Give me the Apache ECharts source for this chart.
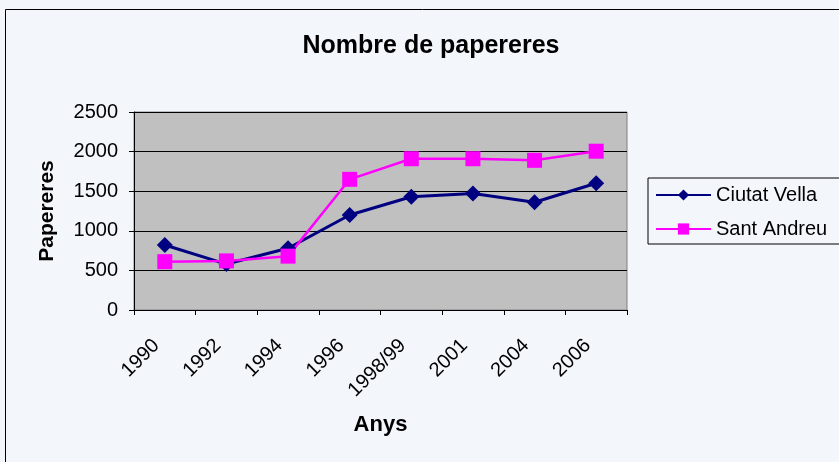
<!DOCTYPE html>
<html><head><meta charset="utf-8">
<script src="https://cdn.jsdelivr.net/npm/echarts@6/dist/echarts.min.js"></script>
<style>html,body{margin:0;padding:0;background:#f3f6fb;}#c{width:839px;height:462px;}</style>
</head><body><div id="c"></div>
<script>
var categories = ['1990','1992','1994','1996','1998/99','2001','2004','2006'];
var ciutatVella = [820, 580, 780, 1200, 1430, 1470, 1360, 1600];
var santAndreu = [610, 620, 680, 1650, 1910, 1910, 1890, 2005];
var yTicks = {min: 0, max: 2500, interval: 500};
var F = 'Liberation Sans, Arial, sans-serif';
var chart = echarts.init(document.getElementById('c'));
chart.setOption({
  backgroundColor: '#f3f6fb',
  animation: false,
  graphic: [{type:'rect', shape:{x:5.5,y:9.5,width:900,height:600}, style:{fill:'none', stroke:'#000', lineWidth:1}, z:-1}],
  title: {text:'Nombre de papereres', left: 426, top: 29, textAlign:'center',
    textStyle:{fontFamily:F, fontSize:25, fontWeight:'bold', color:'#000'}},
  grid: {left:134, top:112, width:493, height:198, show:true, backgroundColor:'#c0c0c0', borderColor:'#808080', borderWidth:1},
  legend: {left:648, top:178, width:200, orient:'vertical', padding:[7,20,5,7], itemGap:14,
    borderColor:'#000', borderWidth:1, backgroundColor:'#f3f6fb',
    itemWidth:55, itemHeight:14,
    textStyle:{fontFamily:F, fontSize:20, color:'#000', padding:[0,0,0,0]},
    data:['Ciutat Vella','Sant Andreu']},
  xAxis: {type:'category', data:categories, boundaryGap:true,
    name:'Anys', nameLocation:'middle', nameGap:104,
    nameTextStyle:{fontFamily:F, fontSize:22, fontWeight:'bold', color:'#000'},
    axisLine:{lineStyle:{color:'#000', width:1}},
    axisTick:{show:true, alignWithLabel:false, length:5, lineStyle:{color:'#000'}},
    axisLabel:{rotate:45, margin:24, padding:[0,12,0,0], fontFamily:F, fontSize:20, color:'#000', interval:0}},
  yAxis: {type:'value', min:yTicks.min, max:yTicks.max, interval:yTicks.interval,
    name:'Papereres', nameLocation:'middle', nameGap:76,
    nameTextStyle:{fontFamily:F, fontSize:21, fontWeight:'bold', color:'#000'},
    axisLine:{show:true, lineStyle:{color:'#000', width:1}},
    axisTick:{show:true, length:5, lineStyle:{color:'#000'}},
    splitLine:{lineStyle:{color:'#000', width:1}},
    axisLabel:{margin:16, fontFamily:F, fontSize:20, color:'#000', formatter:function(v){return String(v);}}},
  series: [
    {name:'Ciutat Vella', type:'line', data:ciutatVella, symbol:'diamond', symbolSize:16,
      lineStyle:{color:'#000080', width:3}, itemStyle:{color:'#000080'}},
    {name:'Sant Andreu', type:'line', data:santAndreu, symbol:'rect', symbolSize:15,
      lineStyle:{color:'#ff00ff', width:2.5}, itemStyle:{color:'#ff00ff'}}
  ]
});
</script></body></html>
